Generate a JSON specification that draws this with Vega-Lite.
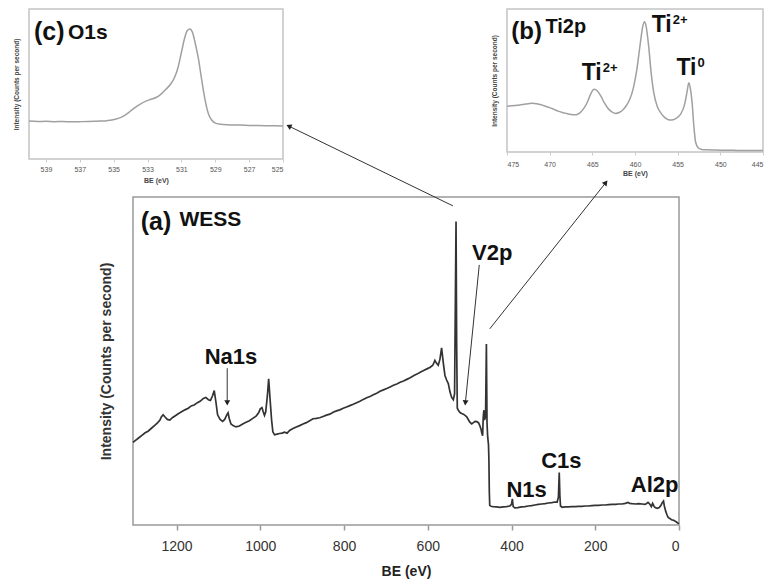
{
  "$schema": "https://vega.github.io/schema/vega-lite/v6.json",
  "background": "white",
  "padding": {"left": 12, "top": 8, "right": 2, "bottom": 2},
  "config": {
    "font": "Liberation Sans",
    "axis": {"grid": false, "labelFont": "Liberation Sans", "titleFont": "Liberation Sans"}
  },
  "datasets": {
    "main": [
      {"be":1304,"cps":25.2},{"be":1298,"cps":25.8},{"be":1290,"cps":26.6},{"be":1282,"cps":27.4},{"be":1275,"cps":28.1},{"be":1268,"cps":28.6},{"be":1260,"cps":29.5},{"be":1252,"cps":30.4},{"be":1245,"cps":31.2},{"be":1240,"cps":31.9},{"be":1236,"cps":33.0},{"be":1232,"cps":33.6},{"be":1228,"cps":33.0},{"be":1222,"cps":32.2},{"be":1216,"cps":32.0},{"be":1210,"cps":32.7},{"be":1202,"cps":33.4},{"be":1195,"cps":34.0},{"be":1188,"cps":34.5},{"be":1180,"cps":35.1},{"be":1172,"cps":35.6},{"be":1165,"cps":36.3},{"be":1158,"cps":36.6},{"be":1150,"cps":37.3},{"be":1143,"cps":37.8},{"be":1136,"cps":38.6},{"be":1130,"cps":38.9},{"be":1124,"cps":38.2},{"be":1119,"cps":38.0},{"be":1114,"cps":39.4},{"be":1110,"cps":41.0},{"be":1106,"cps":37.5},{"be":1102,"cps":33.6},{"be":1096,"cps":32.2},{"be":1090,"cps":31.6},{"be":1085,"cps":32.2},{"be":1080,"cps":33.6},{"be":1077,"cps":34.2},{"be":1074,"cps":32.4},{"be":1070,"cps":30.8},{"be":1065,"cps":30.3},{"be":1058,"cps":29.9},{"be":1050,"cps":30.2},{"be":1042,"cps":30.8},{"be":1034,"cps":31.3},{"be":1026,"cps":31.8},{"be":1018,"cps":32.5},{"be":1010,"cps":33.2},{"be":1004,"cps":34.2},{"be":1000,"cps":35.4},{"be":996,"cps":35.8},{"be":993,"cps":34.5},{"be":990,"cps":33.4},{"be":987,"cps":34.5},{"be":983,"cps":39.5},{"be":980,"cps":44.6},{"be":977,"cps":39.0},{"be":973,"cps":32.0},{"be":970,"cps":28.4},{"be":966,"cps":27.5},{"be":960,"cps":27.7},{"be":954,"cps":27.9},{"be":948,"cps":28.0},{"be":942,"cps":28.3},{"be":936,"cps":28.0},{"be":930,"cps":28.8},{"be":922,"cps":29.4},{"be":914,"cps":29.9},{"be":906,"cps":30.3},{"be":898,"cps":30.8},{"be":890,"cps":31.2},{"be":882,"cps":31.8},{"be":874,"cps":32.4},{"be":866,"cps":32.5},{"be":858,"cps":32.7},{"be":850,"cps":33.1},{"be":842,"cps":33.5},{"be":834,"cps":33.8},{"be":826,"cps":34.4},{"be":818,"cps":34.8},{"be":810,"cps":35.1},{"be":802,"cps":35.6},{"be":794,"cps":36.0},{"be":786,"cps":36.4},{"be":778,"cps":36.8},{"be":770,"cps":37.3},{"be":762,"cps":37.7},{"be":754,"cps":38.3},{"be":746,"cps":38.8},{"be":738,"cps":39.2},{"be":730,"cps":39.7},{"be":722,"cps":40.2},{"be":714,"cps":40.8},{"be":706,"cps":41.2},{"be":698,"cps":41.6},{"be":690,"cps":42.1},{"be":682,"cps":42.6},{"be":674,"cps":43.0},{"be":666,"cps":43.5},{"be":658,"cps":43.9},{"be":650,"cps":44.4},{"be":642,"cps":44.9},{"be":634,"cps":45.5},{"be":626,"cps":46.0},{"be":618,"cps":46.6},{"be":610,"cps":47.1},{"be":602,"cps":47.6},{"be":594,"cps":48.1},{"be":588,"cps":48.7},{"be":583,"cps":50.2},{"be":579,"cps":49.3},{"be":575,"cps":48.7},{"be":571,"cps":50.5},{"be":567,"cps":54.0},{"be":563,"cps":49.5},{"be":559,"cps":45.6},{"be":555,"cps":44.2},{"be":551,"cps":43.1},{"be":547,"cps":40.6},{"be":543,"cps":38.9},{"be":539,"cps":38.2},{"be":536,"cps":40.0},{"be":534,"cps":70.0},{"be":532.5,"cps":92.5},{"be":531,"cps":55.0},{"be":529.5,"cps":35.6},{"be":527,"cps":35.0},{"be":523,"cps":34.3},{"be":519,"cps":34.0},{"be":515,"cps":33.8},{"be":511,"cps":33.4},{"be":507,"cps":33.0},{"be":503,"cps":32.1},{"be":499,"cps":31.3},{"be":495,"cps":30.8},{"be":491,"cps":31.2},{"be":487,"cps":31.6},{"be":483,"cps":31.5},{"be":479,"cps":31.2},{"be":476,"cps":30.4},{"be":473,"cps":29.3},{"be":471,"cps":28.0},{"be":469,"cps":27.2},{"be":467.5,"cps":33.0},{"be":466,"cps":35.0},{"be":464.5,"cps":32.0},{"be":462,"cps":33.0},{"be":460,"cps":55.2},{"be":458.5,"cps":31.0},{"be":457,"cps":27.0},{"be":455,"cps":24.5},{"be":454,"cps":20.0},{"be":453,"cps":10.0},{"be":452,"cps":6.0},{"be":449,"cps":5.7},{"be":444,"cps":5.6},{"be":436,"cps":5.5},{"be":428,"cps":5.4},{"be":420,"cps":5.5},{"be":412,"cps":5.6},{"be":404,"cps":5.8},{"be":400,"cps":6.3},{"be":398,"cps":8.0},{"be":396,"cps":5.6},{"be":392,"cps":5.2},{"be":385,"cps":5.3},{"be":376,"cps":5.5},{"be":368,"cps":5.6},{"be":360,"cps":5.8},{"be":352,"cps":5.9},{"be":344,"cps":6.1},{"be":336,"cps":6.3},{"be":328,"cps":6.4},{"be":320,"cps":6.5},{"be":312,"cps":6.7},{"be":304,"cps":6.8},{"be":296,"cps":7.0},{"be":291,"cps":7.0},{"be":288,"cps":8.5},{"be":286,"cps":16.0},{"be":284.5,"cps":9.0},{"be":283,"cps":5.8},{"be":279,"cps":5.4},{"be":272,"cps":5.5},{"be":264,"cps":5.5},{"be":256,"cps":5.6},{"be":248,"cps":5.6},{"be":240,"cps":5.7},{"be":232,"cps":5.7},{"be":224,"cps":5.8},{"be":216,"cps":5.8},{"be":208,"cps":5.9},{"be":200,"cps":6.0},{"be":192,"cps":6.0},{"be":184,"cps":6.1},{"be":176,"cps":6.1},{"be":168,"cps":6.2},{"be":160,"cps":6.3},{"be":152,"cps":6.3},{"be":144,"cps":6.4},{"be":136,"cps":6.4},{"be":128,"cps":6.6},{"be":122,"cps":6.9},{"be":118,"cps":6.6},{"be":112,"cps":6.5},{"be":104,"cps":6.4},{"be":96,"cps":6.5},{"be":88,"cps":6.4},{"be":82,"cps":6.3},{"be":78,"cps":6.5},{"be":74,"cps":6.9},{"be":70,"cps":6.4},{"be":66,"cps":5.6},{"be":63,"cps":6.6},{"be":60,"cps":5.8},{"be":57,"cps":5.3},{"be":52,"cps":5.1},{"be":47,"cps":5.3},{"be":43,"cps":6.0},{"be":40,"cps":6.8},{"be":37,"cps":7.3},{"be":35,"cps":5.8},{"be":32,"cps":4.3},{"be":29,"cps":3.2},{"be":26,"cps":2.3},{"be":22,"cps":2.0},{"be":18,"cps":1.6},{"be":14,"cps":1.5},{"be":10,"cps":1.2},{"be":6,"cps":0.9},{"be":3,"cps":0.6},{"be":0,"cps":0.4}
    ],
    "o1s": [
      {"be":540,"cps":25.3},{"be":539.5,"cps":25.0},{"be":539,"cps":25.1},{"be":538.5,"cps":24.9},{"be":538,"cps":25.0},{"be":537.5,"cps":24.8},{"be":537,"cps":24.9},{"be":536.5,"cps":25.0},{"be":536,"cps":25.2},{"be":535.5,"cps":25.4},{"be":535.2,"cps":25.8},{"be":534.9,"cps":26.5},{"be":534.6,"cps":27.6},{"be":534.3,"cps":29.4},{"be":534,"cps":32.0},{"be":533.7,"cps":34.6},{"be":533.4,"cps":36.8},{"be":533.1,"cps":38.6},{"be":532.8,"cps":39.8},{"be":532.5,"cps":41.0},{"be":532.2,"cps":43.3},{"be":531.9,"cps":46.6},{"be":531.6,"cps":50.5},{"be":531.4,"cps":54.5},{"be":531.2,"cps":61.0},{"be":531.0,"cps":71.0},{"be":530.8,"cps":81.0},{"be":530.65,"cps":85.6},{"be":530.5,"cps":86.6},{"be":530.35,"cps":84.6},{"be":530.2,"cps":78.0},{"be":530.0,"cps":67.3},{"be":529.8,"cps":52.7},{"be":529.6,"cps":39.3},{"be":529.4,"cps":30.0},{"be":529.2,"cps":25.8},{"be":529.0,"cps":23.9},{"be":528.7,"cps":23.2},{"be":528.3,"cps":22.8},{"be":528,"cps":22.7},{"be":527.5,"cps":22.6},{"be":527,"cps":22.4},{"be":526.5,"cps":22.3},{"be":526,"cps":22.2},{"be":525.5,"cps":22.1},{"be":525,"cps":22.0}
    ],
    "ti2p": [
      {"be":475,"cps":32.0},{"be":474.5,"cps":32.3},{"be":474,"cps":32.6},{"be":473.5,"cps":32.9},{"be":473,"cps":33.4},{"be":472.5,"cps":33.8},{"be":472,"cps":34.1},{"be":471.5,"cps":33.7},{"be":471,"cps":33.0},{"be":470.5,"cps":32.0},{"be":470,"cps":31.0},{"be":469.5,"cps":29.8},{"be":469,"cps":28.6},{"be":468.5,"cps":27.6},{"be":468,"cps":26.9},{"be":467.5,"cps":26.3},{"be":467,"cps":26.0},{"be":466.5,"cps":27.2},{"be":466,"cps":30.5},{"be":465.6,"cps":34.6},{"be":465.2,"cps":40.5},{"be":464.8,"cps":43.8},{"be":464.4,"cps":42.6},{"be":464.0,"cps":39.0},{"be":463.6,"cps":34.5},{"be":463.2,"cps":30.8},{"be":462.8,"cps":28.4},{"be":462.3,"cps":27.0},{"be":461.8,"cps":27.8},{"be":461.4,"cps":29.6},{"be":461.0,"cps":32.5},{"be":460.6,"cps":37.0},{"be":460.2,"cps":44.5},{"be":459.8,"cps":57.0},{"be":459.4,"cps":75.0},{"be":459.1,"cps":87.5},{"be":458.9,"cps":91.1},{"be":458.7,"cps":88.0},{"be":458.4,"cps":74.0},{"be":458.1,"cps":55.0},{"be":457.8,"cps":41.5},{"be":457.4,"cps":32.0},{"be":457.0,"cps":27.5},{"be":456.5,"cps":24.0},{"be":456.0,"cps":22.4},{"be":455.5,"cps":22.6},{"be":455.0,"cps":24.3},{"be":454.6,"cps":27.0},{"be":454.2,"cps":33.0},{"be":453.9,"cps":42.0},{"be":453.7,"cps":48.5},{"be":453.5,"cps":44.0},{"be":453.3,"cps":34.0},{"be":453.1,"cps":18.0},{"be":452.9,"cps":7.0},{"be":452.6,"cps":3.0},{"be":452.2,"cps":1.8},{"be":451.5,"cps":1.5},{"be":450,"cps":1.3},{"be":449,"cps":1.2},{"be":448,"cps":1.1},{"be":447,"cps":1.0},{"be":446,"cps":1.0},{"be":445,"cps":1.0}
    ],
    "arrows": [
      {"a":"na","be":1079,"cps":47.8,"be2":1079,"cps2":37.5},
      {"a":"v","be":477,"cps":79.3,"be2":510,"cps2":37.5},
      {"a":"o","be":540,"cps":97.3,"be2":930,"cps2":121.5},
      {"a":"ti","be":452,"cps":59.8,"be2":176,"cps2":104.2}
    ]
  },
  "bounds": "flush",
  "spacing": 188,
  "vconcat": [
    {
      "bounds": "flush",
      "spacing": 224,
      "hconcat": [
        {
          "width": 254,
          "height": 150,
          "view": {"stroke": "#c4c4c4", "strokeWidth": 1.5},
          "encoding": {
            "x": {"field": "be", "type": "quantitative", "scale": {"domain": [525, 540], "reverse": true, "nice": false, "zero": false},
                  "axis": {"title": "BE (eV)", "values": [539, 537, 535, 533, 531, 529, 527, 525], "labelOverlap": false, "labelSeparation": 0, "labelBound": false, "domain": false, "tickSize": 3, "tickColor": "#cccccc", "labelFontSize": 7, "labelColor": "#555555", "labelPadding": 3, "titleFontSize": 7, "titleFontWeight": "bold", "titleColor": "#444444", "titlePadding": 4}},
            "y": {"field": "cps", "type": "quantitative", "scale": {"domain": [0, 100], "nice": false},
                  "axis": {"title": "Intensity (Counts per second)", "labels": false, "ticks": false, "domain": false, "titleFontSize": 6.5, "titleFontWeight": "bold", "titleColor": "#444444", "titlePadding": 10}}
          },
          "layer": [
            {
              "data": {"name": "o1s"},
              "mark": {"type": "line", "color": "#a0a0a0", "strokeWidth": 1.5, "interpolate": "monotone"}
            },
            {
              "data": {"values": [{"be": 538.8, "cps": 84.7, "label": "(c)"}]},
              "mark": {"type": "text", "fontSize": 25, "fontWeight": "bold", "color": "#111111", "align": "center", "baseline": "middle"},
              "encoding": {"text": {"field": "label"}}
            },
            {
              "data": {"values": [{"be": 537.7, "cps": 84.3, "label": "O1s"}]},
              "mark": {"type": "text", "fontSize": 21, "fontWeight": "bold", "color": "#111111", "align": "left", "baseline": "middle"},
              "encoding": {"text": {"field": "label"}}
            }
          ]
        },
        {
          "width": 256,
          "height": 143,
          "view": {"stroke": "#c4c4c4", "strokeWidth": 1.5},
          "encoding": {
            "x": {"field": "be", "type": "quantitative", "scale": {"domain": [445, 475], "reverse": true, "nice": false, "zero": false},
                  "axis": {"title": "BE (eV)", "values": [475, 470, 465, 460, 455, 450, 445], "labelOverlap": false, "domain": false, "tickSize": 3, "tickColor": "#cccccc", "labelFontSize": 7, "labelColor": "#555555", "labelPadding": 5, "titleFontSize": 7, "titleFontWeight": "bold", "titleColor": "#444444", "titlePadding": 2}},
            "y": {"field": "cps", "type": "quantitative", "scale": {"domain": [0, 100], "nice": false},
                  "axis": {"title": "Intensity (Counts per second)", "labels": false, "ticks": false, "domain": false, "titleFontSize": 6.5, "titleFontWeight": "bold", "titleColor": "#444444", "titlePadding": 10}}
          },
          "layer": [
            {
              "data": {"name": "ti2p"},
              "mark": {"type": "line", "color": "#a0a0a0", "strokeWidth": 1.5, "interpolate": "monotone"}
            },
            {
              "data": {"values": [{"be": 472.7, "cps": 84.1, "label": "(b)"}]},
              "mark": {"type": "text", "fontSize": 24, "fontWeight": "bold", "color": "#111111", "align": "center", "baseline": "middle"},
              "encoding": {"text": {"field": "label"}}
            },
            {
              "data": {"values": [{"be": 470.5, "cps": 87.5, "label": "Ti2p"}]},
              "mark": {"type": "text", "fontSize": 20, "fontWeight": "bold", "color": "#111111", "align": "left", "baseline": "middle"},
              "encoding": {"text": {"field": "label"}}
            },
            {
              "data": {"values": [{"be": 463.9, "cps": 55.2, "base": "Ti", "sup": "2+"}, {"be": 455.7, "cps": 88.8, "base": "Ti", "sup": "2+"}, {"be": 452.8, "cps": 58.5, "base": "Ti", "sup": "0"}]},
              "mark": {"type": "text", "fontSize": 23, "fontWeight": "bold", "color": "#111111", "align": "right", "baseline": "middle"},
              "encoding": {"text": {"field": "base"}}
            },
            {
              "data": {"values": [{"be": 463.9, "cps": 55.2, "base": "Ti", "sup": "2+"}, {"be": 455.7, "cps": 88.8, "base": "Ti", "sup": "2+"}, {"be": 452.8, "cps": 58.5, "base": "Ti", "sup": "0"}]},
              "mark": {"type": "text", "fontSize": 13, "fontWeight": "bold", "color": "#111111", "align": "left", "baseline": "middle", "dx": 1, "dy": -5},
              "encoding": {"text": {"field": "sup"}}
            }
          ]
        }
      ]
    },
    {
      "bounds": "flush",
      "spacing": 24,
      "hconcat": [
        {
          "width": 80,
          "height": 10,
          "view": {"stroke": null},
          "data": {"values": []},
          "mark": "point"
        },
        {
          "width": 546,
          "height": 328,
          "view": {"stroke": "#999999", "strokeWidth": 1.5},
          "layer": [
            {
              "data": {"name": "main"},
              "mark": {"type": "line", "color": "#333333", "strokeWidth": 1.7},
              "encoding": {
                "x": {"field": "be", "type": "quantitative", "scale": {"domain": [0, 1304], "reverse": true, "nice": false, "zero": false},
                      "axis": {"title": "BE (eV)", "values": [0, 200, 400, 600, 800, 1000, 1200], "format": "d", "domain": false, "tickSize": 5, "tickWidth": 1.5, "tickColor": "#999999", "labelFontSize": 14, "labelColor": "#333333", "labelPadding": 9, "titleFontSize": 14, "titleFontWeight": "bold", "titleColor": "#222222", "titlePadding": 11}},
                "y": {"field": "cps", "type": "quantitative", "scale": {"domain": [0, 100], "nice": false},
                      "axis": {"title": "Intensity (Counts per second)", "labels": false, "ticks": false, "domain": false, "titleFontSize": 14, "titleFontWeight": "bold", "titleColor": "#333333", "titlePadding": 20}}
              }
            },
            {
              "data": {"values": [{"be": 1249, "cps": 92.5, "label": "(a)"}]},
              "mark": {"type": "text", "fontSize": 25, "fontWeight": "bold", "color": "#111111", "align": "center", "baseline": "middle"},
              "encoding": {"x": {"field": "be", "type": "quantitative"}, "y": {"field": "cps", "type": "quantitative"}, "text": {"field": "label"}}
            },
            {
              "data": {"values": [{"be": 1193, "cps": 93, "label": "WESS"}]},
              "mark": {"type": "text", "fontSize": 21, "fontWeight": "bold", "color": "#111111", "align": "left", "baseline": "middle"},
              "encoding": {"x": {"field": "be", "type": "quantitative"}, "y": {"field": "cps", "type": "quantitative"}, "text": {"field": "label"}}
            },
            {
              "data": {"values": [{"be": 1070, "cps": 51.2, "label": "Na1s"}, {"be": 446, "cps": 82.9, "label": "V2p"}, {"be": 364, "cps": 10.8, "label": "N1s"}, {"be": 281, "cps": 19.4, "label": "C1s"}, {"be": 58, "cps": 12.2, "label": "Al2p"}]},
              "mark": {"type": "text", "fontSize": 22, "fontWeight": "bold", "color": "#111111", "align": "center", "baseline": "middle"},
              "encoding": {"x": {"field": "be", "type": "quantitative"}, "y": {"field": "cps", "type": "quantitative"}, "text": {"field": "label"}}
            },
            {
              "data": {"name": "arrows"},
              "mark": {"type": "rule", "color": "#333333", "strokeWidth": 1, "clip": false},
              "encoding": {"x": {"field": "be", "type": "quantitative"}, "y": {"field": "cps", "type": "quantitative"}, "x2": {"field": "be2"}, "y2": {"field": "cps2"}}
            },
            {
              "data": {"name": "arrows"},
              "transform": [{"filter": "datum.a == 'na'"}],
              "mark": {"type": "point", "shape": "triangle", "filled": true, "size": 35, "color": "#222222", "opacity": 1, "angle": 180, "clip": false},
              "encoding": {"x": {"field": "be2", "type": "quantitative"}, "y": {"field": "cps2", "type": "quantitative"}}
            },
            {
              "data": {"name": "arrows"},
              "transform": [{"filter": "datum.a == 'v'"}],
              "mark": {"type": "point", "shape": "triangle", "filled": true, "size": 35, "color": "#222222", "opacity": 1, "angle": 186, "clip": false},
              "encoding": {"x": {"field": "be2", "type": "quantitative"}, "y": {"field": "cps2", "type": "quantitative"}}
            },
            {
              "data": {"name": "arrows"},
              "transform": [{"filter": "datum.a == 'o'"}],
              "mark": {"type": "point", "shape": "triangle", "filled": true, "size": 35, "color": "#222222", "opacity": 1, "angle": 296, "clip": false},
              "encoding": {"x": {"field": "be2", "type": "quantitative"}, "y": {"field": "cps2", "type": "quantitative"}}
            },
            {
              "data": {"name": "arrows"},
              "transform": [{"filter": "datum.a == 'ti'"}],
              "mark": {"type": "point", "shape": "triangle", "filled": true, "size": 35, "color": "#222222", "opacity": 1, "angle": 38.5, "clip": false},
              "encoding": {"x": {"field": "be2", "type": "quantitative"}, "y": {"field": "cps2", "type": "quantitative"}}
            }
          ]
        }
      ]
    }
  ]
}
